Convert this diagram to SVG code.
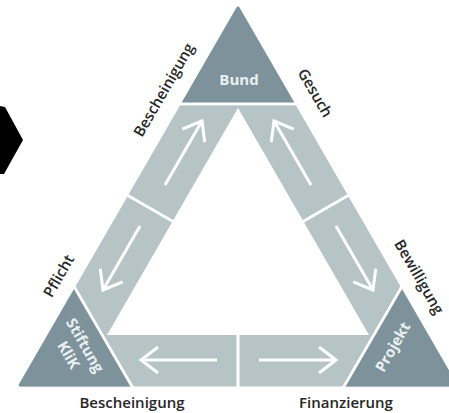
<svg xmlns="http://www.w3.org/2000/svg" width="449" height="413" viewBox="0 0 449 413">
<defs>
<style>
.band{fill:#b6c4c6}
.corner{fill:#7d929a}
.sep{stroke:#ffffff;stroke-width:3;fill:none}
.arrow{stroke:#ffffff;stroke-width:3;fill:none;marker-end:url(#head)}
.nodelabel{font-family:"Open Sans","DejaVu Sans",sans-serif;font-size:15px;font-weight:bold;fill:#eaeff1;text-anchor:middle}
.label{font-family:"Open Sans","DejaVu Sans",sans-serif;font-size:15px;font-weight:600;fill:#262626;text-anchor:middle}
</style>
<marker id="head" markerUnits="userSpaceOnUse" markerWidth="40" markerHeight="40" viewBox="-20 -20 40 40" refX="0" refY="0" orient="auto" overflow="visible">
<path d="M-17,-13 L0,0 L-17,13" fill="none" stroke="#ffffff" stroke-width="3"/>
</marker>
</defs>
<rect width="449" height="413" fill="#ffffff"/>
<polygon points="0,106 5,107 23,140 4,174 0,174" fill="#000000"/>
<g id="ring">
<polygon class="band" points="238,8 20.3,385 455.7,385" stroke="#b6c4c6" stroke-width="3" stroke-linejoin="round"/>
<polygon points="238,108 107,335 369,335" fill="#ffffff"/>
</g>
<g id="bund">
<polygon class="corner" points="238,8 182.6,104 293.4,104" stroke="#7d929a" stroke-width="3" stroke-linejoin="round"/>
<text class="nodelabel" x="239" y="85">Bund</text>
</g>
<g id="stiftung">
<polygon class="corner" points="20.3,385 75.8,289 131.2,385" stroke="#7d929a" stroke-width="3" stroke-linejoin="round"/>
<g transform="translate(77,350) rotate(60)">
<text class="nodelabel" x="0" y="-4">Stiftung</text>
<text class="nodelabel" x="0" y="15">KliK</text>
</g>
</g>
<g id="projekt">
<polygon class="corner" points="455.7,385 400.2,289 344.8,385" stroke="#7d929a" stroke-width="3" stroke-linejoin="round"/>
<text class="nodelabel" transform="translate(393,347) rotate(-60)" x="0" y="5">Projekt</text>
</g>
<g id="connectors">
<line class="sep" x1="178" y1="104" x2="298" y2="104"/>
<line class="sep" x1="73" y1="284.5" x2="133" y2="388"/>
<line class="sep" x1="403" y1="284.5" x2="343" y2="388"/>
<line class="sep" x1="127" y1="195" x2="173" y2="221.5"/>
<line class="sep" x1="349" y1="195" x2="303" y2="221.5"/>
<line class="sep" x1="238" y1="334" x2="238" y2="388"/>
<path class="arrow" d="M165,185 L202,121"/>
<path class="arrow" d="M140,226 L103,290"/>
<path class="arrow" d="M311,185 L274,121"/>
<path class="arrow" d="M336,226 L373,290"/>
<path class="arrow" d="M217,360 L141,360"/>
<path class="arrow" d="M259,360 L336,360"/>
</g>
<g id="labels">
<text class="label" transform="translate(164,90) rotate(-60)" x="0" y="5">Bescheinigung</text>
<text class="label" transform="translate(315,93) rotate(60)" x="0" y="5">Gesuch</text>
<text class="label" transform="translate(59,276) rotate(-60)" x="0" y="5">Pflicht</text>
<text class="label" transform="translate(419,277) rotate(60)" x="0" y="5">Bewilligung</text>
<text class="label" x="132" y="408">Bescheinigung</text>
<text class="label" x="346" y="408">Finanzierung</text>
</g>
</svg>
